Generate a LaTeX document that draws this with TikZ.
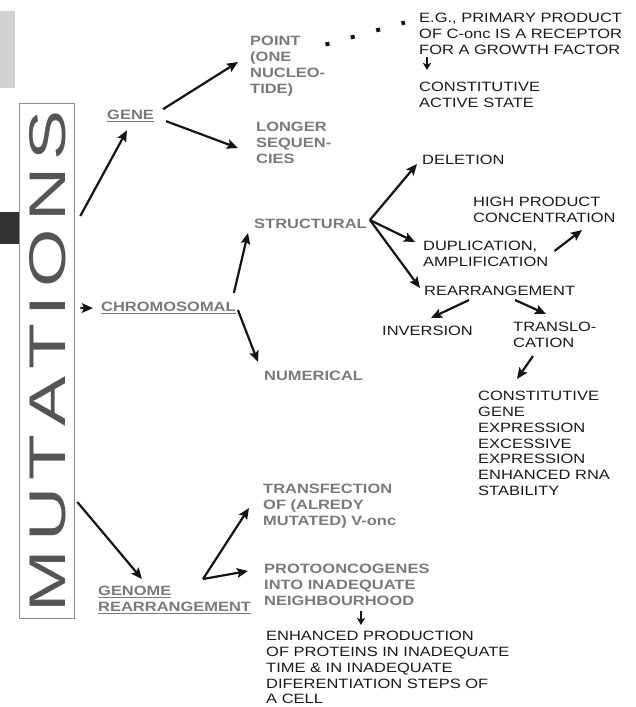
\documentclass[tikz,border=0pt]{standalone}
\usepackage{fontspec}
\usepackage{graphicx}
\setmainfont{Liberation Sans}[FakeStretch=1.22]
\newfontfamily\mutfont{Liberation Sans}[FakeStretch=1.5]
\usetikzlibrary{arrows.meta,calc}
\definecolor{labelgray}{HTML}{7A7A7A}
\definecolor{labelblack}{HTML}{1A1A1A}
\definecolor{arrowblack}{HTML}{141414}
\definecolor{titlegray}{HTML}{555555}
% text with a rule under it, in the text colour
\newcommand{\ulinetext}[1]{\leavevmode\setbox0\hbox{#1}%
  \rlap{\rule[-2.5pt]{\wd0}{1.2pt}}\box0}
% spacing between the title letters
\newcommand{\titlegap}{\hspace{7.5pt}}
\tikzset{
  lbl/.style={anchor=north west, inner sep=0pt, align=left,
    font=\fontsize{13.5pt}{15.8pt}\selectfont},
  graylbl/.style={lbl, text=labelgray,
    font=\fontsize{13.5pt}{15.8pt}\selectfont\bfseries},
  blacklbl/.style={lbl, text=labelblack},
  arr/.style={-{Stealth[length=11pt,width=9.5pt,inset=2pt]},
    line width=2.2pt, draw=arrowblack},
  smallarr/.style={-{Stealth[length=7pt,width=8pt,inset=1.5pt]},
    line width=1.5pt, draw=arrowblack},
  dotrow/.style={line width=4pt, draw=arrowblack,
    dash pattern=on 4pt off 22.3pt, shorten <=-2pt, shorten >=-2pt},
}
\begin{document}
\begin{tikzpicture}[x=1pt,y=-1pt]
\fill[white] (0,0) rectangle (636,707);
\useasboundingbox (0,0) rectangle (636,707);

% side tabs
\fill[black!18] (0,11) rectangle (15,88);
\fill[black!80] (0,212) rectangle (19,244);

% title box
\node[draw=black!45, line width=0.6pt, minimum width=55.5pt,
      minimum height=515pt, inner sep=0pt] (mut) at (46.75,360.5) {};
\node[rotate=90, inner sep=0pt, text=titlegray] (mutlabel) at (48,361)
  {\resizebox{502pt}{36pt}{\mutfont\fontsize{50pt}{50pt}\selectfont
   M\titlegap U\titlegap T\titlegap A\titlegap T\titlegap I\titlegap
   O\titlegap N\titlegap S}};

% first level
\node[graylbl] (gene) at (107,110) {\ulinetext{GENE}};
\node[graylbl] (chrom) at (101,302) {\ulinetext{CHROMOSOMAL}};
\node[graylbl] (genome) at (98,586) {\ulinetext{GENOME}\\\ulinetext{REARRANGEMENT}};

% gene branch
\node[graylbl] (point) at (250,36) {POINT\\(ONE\\NUCLEO-\\TIDE)};
\node[graylbl] (longer) at (256,122) {LONGER\\SEQUEN-\\CIES};
\node[blacklbl] (eg) at (419,13) {E.G., PRIMARY PRODUCT\\OF C-onc IS A RECEPTOR\\FOR A GROWTH FACTOR};
\node[blacklbl] (active) at (419,82) {CONSTITUTIVE\\ACTIVE STATE};

% chromosomal branch
\node[graylbl] (structural) at (254,219) {STRUCTURAL};
\node[graylbl] (numerical) at (264,371) {NUMERICAL};
\node[blacklbl] (deletion) at (422,155) {DELETION};
\node[blacklbl] (high) at (473,197) {HIGH PRODUCT\\CONCENTRATION};
\node[blacklbl] (dup) at (423,241) {DUPLICATION,\\AMPLIFICATION};
\node[blacklbl] (rearr) at (424,286) {REARRANGEMENT};
\node[blacklbl] (inversion) at (382,326) {INVERSION};
\node[blacklbl] (transloc) at (513,322) {TRANSLO-\\CATION};
\node[blacklbl] (constit) at (478,391) {CONSTITUTIVE\\GENE\\EXPRESSION\\EXCESSIVE\\EXPRESSION\\ENHANCED RNA\\STABILITY};

% genome branch
\node[graylbl] (transfect) at (263,484) {TRANSFECTION\\OF (ALREDY\\MUTATED) V-onc};
\node[graylbl] (proto) at (264,564) {PROTOONCOGENES\\INTO INADEQUATE\\NEIGHBOURHOOD};
\node[blacklbl] (enhanced) at (266,631) {ENHANCED PRODUCTION\\OF PROTEINS IN INADEQUATE\\TIME \& IN INADEQUATE\\DIFERENTIATION STEPS OF\\A CELL};

% branch points
\coordinate (sb) at ($(structural.north east)+(3,1)$);
\coordinate (gb) at ($(genome.north west)+(105,-7)$);

% connectors from the title
\draw[arr] ($(mut.east)+(5.5,-144.5)$) -- ($(gene.south west)+(20,8)$);
\draw[arr] ($(mut.east)+(5.5,-52.5)$) -- ($(chrom.west)+(-8,0)$);
\draw[arr] ($(mut.east)+(2.5,141.5)$) -- ($(genome.north west)+(44,-7)$);

% gene
\draw[arr] ($(gene.east)+(9,-7)$) -- ($(point.north west)+(-12,26)$);
\draw[arr] ($(gene.east)+(12,5)$) -- ($(longer.north west)+(-18,26)$);
\draw[dotrow] ($(point.north east)+(2,8)$) -- ($(eg.north west)+(-16,10)$);
\draw[smallarr] ($(eg.north west)+(8,44)$) -- ($(active.north west)+(8,-12)$);

% chromosomal
\draw[arr] ($(chrom.north east)+(-2,-9)$) -- ($(structural.north west)+(-6,14)$);
\draw[arr] ($(chrom.north east)+(2,8)$) -- ($(numerical.north west)+(-6,-9)$);
\draw[arr] (sb) -- ($(deletion.north west)+(-5,9)$);
\draw[arr] (sb) -- ($(dup.north west)+(-8,1)$);
\draw[arr] (sb) -- ($(rearr.north west)+(-4,2)$);
\draw[arr] ($(dup.north east)+(6,10)$) -- ($(high.north west)+(109,33)$);
\draw[arr] ($(rearr.north west)+(45,14)$) -- ($(inversion.north west)+(49,-8)$);
\draw[arr] ($(rearr.north west)+(91,14)$) -- ($(transloc.north west)+(33,-8)$);
\draw[arr] ($(transloc.north west)+(20,34)$) -- ($(constit.north west)+(39,-12)$);

% genome rearrangement
\draw[arr] (gb) -- ($(transfect.north west)+(-14,24)$);
\draw[arr] (gb) -- ($(proto.north west)+(-16,7)$);
\draw[smallarr] ($(proto.north west)+(97,47)$) -- ($(enhanced.north west)+(95,-6)$);
\end{tikzpicture}
\end{document}
